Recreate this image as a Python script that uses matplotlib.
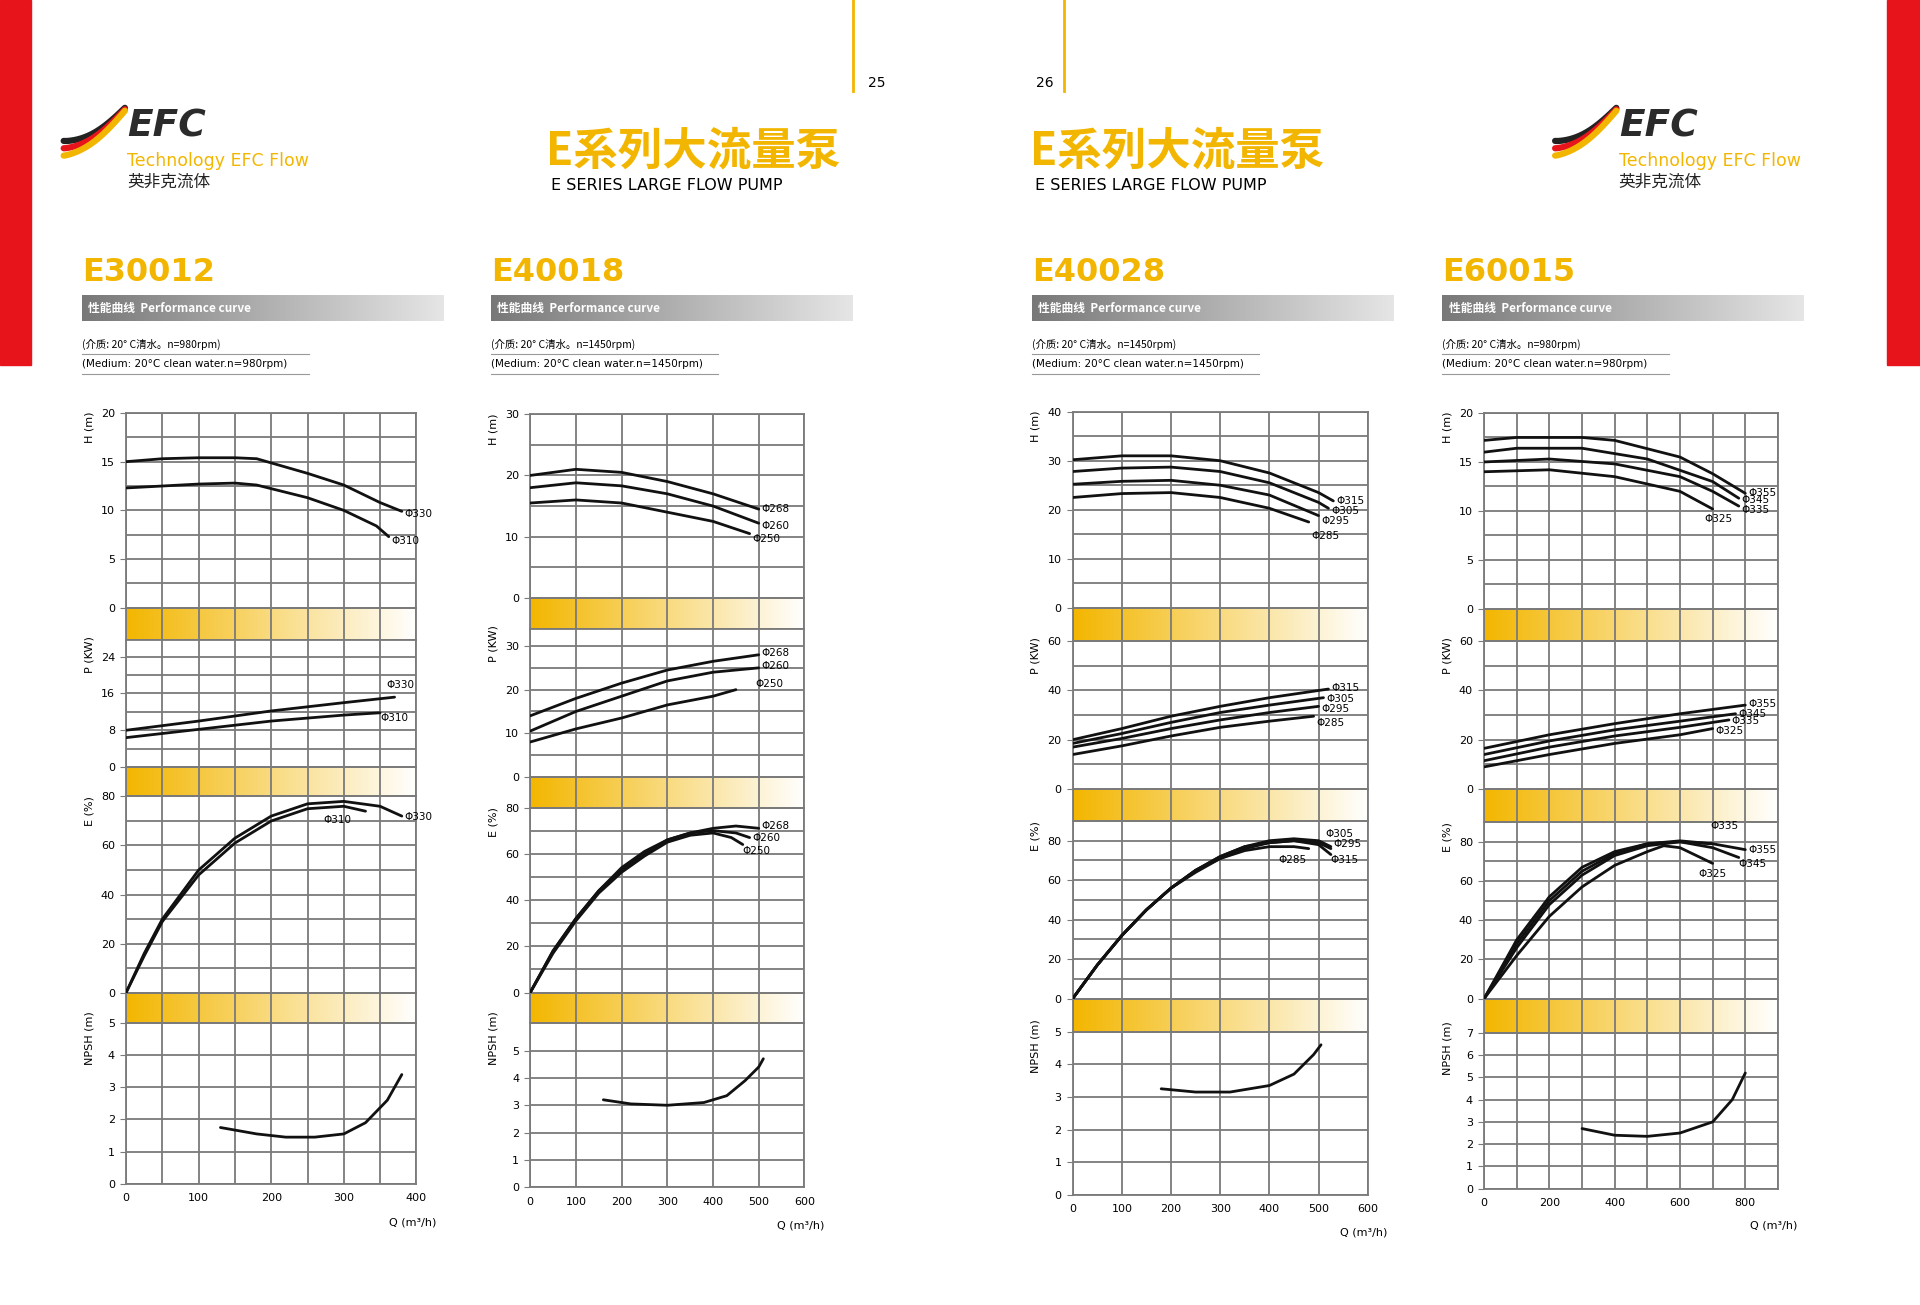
import os
import matplotlib.pyplot as plt
import numpy as np
from matplotlib.patches import Rectangle
from matplotlib.font_manager import FontProperties

plt.rcParams['font.family'] = 'DejaVu Sans'
_cjk_dir = '/usr/share/fonts/opentype/noto/'


def cjk(size, bold=False):
    f = _cjk_dir + ('NotoSansCJK-Bold.ttc' if bold else 'NotoSansCJK-Regular.ttc')
    if os.path.exists(f):
        return FontProperties(fname=f, size=size)
    return FontProperties(family='Noto Sans CJK SC', size=size,
                          weight='bold' if bold else 'normal')


# ---------------- data (Q in m3/h) ----------------
# E30012
e1_hq330 = [0, 50, 100, 150, 180, 250, 300, 350, 380]
e1_h330 = [15.0, 15.3, 15.4, 15.4, 15.3, 13.8, 12.6, 10.8, 9.9]
e1_hq310 = [0, 100, 150, 180, 250, 300, 345, 362]
e1_h310 = [12.3, 12.7, 12.8, 12.6, 11.3, 10.0, 8.4, 7.3]
e1_pq330 = [0, 100, 200, 300, 370]
e1_p330 = [8.0, 10.0, 12.2, 14.0, 15.2]
e1_pq310 = [0, 100, 200, 300, 350]
e1_p310 = [6.4, 8.2, 10.0, 11.3, 11.8]
e1_eq330 = [0, 25, 50, 100, 150, 200, 250, 300, 350, 380]
e1_e330 = [0, 16, 30, 50, 63, 72, 77, 78, 76, 72]
e1_eq310 = [0, 25, 50, 100, 150, 200, 250, 300, 330]
e1_e310 = [0, 15, 29, 48, 61, 70, 75, 76, 74]
e1_nq = [130, 180, 220, 260, 300, 330, 360, 380]
e1_n = [1.75, 1.55, 1.45, 1.45, 1.55, 1.9, 2.6, 3.4]

# E40018
e2_hq = [0, 100, 200, 300, 400, 500]
e2_h268 = [20.0, 21.0, 20.5, 19.0, 17.0, 14.5]
e2_h260 = [18.0, 18.8, 18.3, 17.0, 15.0, 12.2]
e2_hq250 = [0, 100, 200, 300, 400, 480]
e2_h250 = [15.5, 16.0, 15.5, 14.0, 12.5, 10.5]
e2_pq = [0, 100, 200, 300, 400, 500]
e2_p268 = [14.0, 18.0, 21.5, 24.5, 26.5, 28.0]
e2_p260 = [10.5, 15.0, 18.5, 22.0, 24.0, 25.0]
e2_pq250 = [0, 100, 200, 300, 400, 450]
e2_p250 = [8.0, 11.0, 13.5, 16.5, 18.5, 20.0]
e2_eq268 = [0, 50, 100, 150, 200, 250, 300, 350, 400, 450, 500]
e2_e268 = [0, 18, 32, 44, 54, 61, 66, 69, 71, 72, 71]
e2_eq260 = [0, 50, 100, 150, 200, 250, 300, 350, 400, 450, 480]
e2_e260 = [0, 18, 32, 44, 53, 60, 66, 69, 70, 69, 67]
e2_eq250 = [0, 50, 100, 150, 200, 250, 300, 350, 400, 440, 465]
e2_e250 = [0, 17, 31, 43, 52, 59, 65, 68, 69, 67, 64]
e2_nq = [160, 220, 300, 380, 430, 470, 500, 510]
e2_n = [3.2, 3.05, 3.0, 3.1, 3.35, 3.9, 4.4, 4.7]

# E40028
e3_hq315 = [0, 100, 200, 300, 400, 500, 530]
e3_h315 = [30.2, 31.0, 31.0, 30.0, 27.5, 23.5, 21.8]
e3_hq305 = [0, 100, 200, 300, 400, 500, 520]
e3_h305 = [27.8, 28.5, 28.7, 27.8, 25.5, 21.5, 20.3]
e3_hq295 = [0, 100, 200, 300, 400, 500]
e3_h295 = [25.2, 25.8, 26.0, 25.0, 23.0, 18.8]
e3_hq285 = [0, 100, 200, 300, 400, 480]
e3_h285 = [22.5, 23.3, 23.5, 22.5, 20.3, 17.5]
e3_pq315 = [0, 100, 200, 300, 400, 520]
e3_p315 = [20.0, 24.5, 29.5, 33.5, 37.0, 40.5]
e3_pq305 = [0, 100, 200, 300, 400, 510]
e3_p305 = [18.5, 22.5, 27.0, 31.0, 34.0, 37.0]
e3_pq295 = [0, 100, 200, 300, 400, 500]
e3_p295 = [17.0, 20.5, 24.5, 28.0, 31.0, 33.5]
e3_pq285 = [0, 100, 200, 300, 400, 490]
e3_p285 = [14.0, 17.5, 21.5, 25.0, 27.5, 29.5]
e3_eq = [0, 50, 100, 150, 200, 250, 300, 350, 400, 450, 500, 525]
e3_e305 = [0, 17, 32, 45, 56, 65, 72, 77, 80, 81, 80, 77]
e3_e295 = [0, 17, 32, 45, 56, 65, 72, 77, 79, 80, 79, 76]
e3_e315 = [0, 17, 32, 45, 56, 65, 71, 76, 79, 80, 78, 73]
e3_eq285 = [0, 50, 100, 150, 200, 250, 300, 350, 400, 450, 480]
e3_e285 = [0, 17, 32, 45, 56, 64, 71, 75, 77, 77, 76]
e3_nq = [180, 250, 320, 400, 450, 490, 505]
e3_n = [3.25, 3.15, 3.15, 3.35, 3.7, 4.3, 4.6]

# E60015
e4_hq355 = [0, 100, 300, 400, 600, 700, 800]
e4_h355 = [17.2, 17.5, 17.5, 17.2, 15.5, 13.8, 11.8]
e4_hq345 = [0, 100, 300, 500, 700, 780]
e4_h345 = [16.0, 16.4, 16.4, 15.3, 13.0, 11.3]
e4_hq335 = [0, 200, 400, 600, 700, 780]
e4_h335 = [15.0, 15.3, 14.8, 13.5, 12.0, 10.5]
e4_hq325 = [0, 200, 400, 600, 700]
e4_h325 = [14.0, 14.2, 13.5, 12.0, 10.2]
e4_pq355 = [0, 200, 400, 600, 800]
e4_p355 = [16.5, 22.0, 26.5, 30.5, 34.0]
e4_pq345 = [0, 200, 400, 600, 770]
e4_p345 = [14.0, 19.5, 24.0, 27.5, 30.5]
e4_pq335 = [0, 200, 400, 600, 750]
e4_p335 = [11.5, 17.0, 21.5, 25.0, 28.0]
e4_pq325 = [0, 200, 400, 600, 700]
e4_p325 = [9.0, 14.0, 18.5, 22.0, 24.5]
e4_eq355 = [0, 100, 200, 300, 400, 500, 600, 700, 800]
e4_e355 = [0, 30, 52, 67, 75, 79, 80.5, 79, 76]
e4_eq345 = [0, 100, 200, 300, 400, 500, 600, 700, 780]
e4_e345 = [0, 28, 50, 65, 74, 79, 80, 77, 72]
e4_eq335 = [0, 100, 200, 300, 400, 500, 600, 700]
e4_e335 = [0, 26, 48, 63, 73, 78, 80, 79]
e4_eq325 = [0, 100, 200, 300, 400, 500, 550, 600, 700]
e4_e325 = [0, 22, 42, 57, 68, 75, 78, 77, 69]
e4_nq = [300, 400, 500, 600, 700, 760, 800]
e4_n = [2.7, 2.4, 2.35, 2.5, 3.0, 4.0, 5.2]

# ---------------- layout helpers (reference page units 1568 x 1065) ----------------
W, H = 1568.0, 1065.0
YEL = '#f3b600'
GRID = '#7a7a7a'
fig = plt.figure(figsize=(19.2, 13.05), dpi=100)
bg = fig.add_axes([0, 0, 1, 1])
bg.set_xlim(0, W)
bg.set_ylim(H, 0)
bg.axis('off')


def box(x0, x1, ytop, ybot):
    return fig.add_axes([x0 / W, 1 - ybot / H, (x1 - x0) / W, (ybot - ytop) / H])


def vgrid(ax, qmax, xgrid):
    for x in np.arange(0, qmax + 1, xgrid):
        ax.axvline(x, color=GRID, lw=1.3, zorder=1)


def band(x0, x1, ytop, ybot, qmax, xgrid):
    ax = box(x0, x1, ytop, ybot)
    grad = np.linspace(0, 1, 256)[None, :]
    cols = np.array([[0.953, 0.714, 0.0], [1, 1, 1]])
    img = cols[0] * (1 - grad[..., None]) + cols[1] * grad[..., None]
    ax.imshow(img, aspect='auto', extent=[0, qmax, 0, 1], zorder=0)
    ax.set_xlim(0, qmax)
    ax.set_ylim(0, 1)
    vgrid(ax, qmax, xgrid)
    for s in ax.spines.values():
        s.set_color(GRID)
        s.set_linewidth(1.3)
    ax.set_xticks([])
    ax.set_yticks([])


def panel(x0, x1, ytop, ybot, qmax, xgrid, ylim, ygrid, yticks, ylabel, curves,
          names, offs, xticks=None, lw=2.0):
    ax = box(x0, x1, ytop, ybot)
    ax.set_xlim(0, qmax)
    ax.set_ylim(*ylim)
    vgrid(ax, qmax, xgrid)
    for y in np.arange(ylim[0], ylim[1] + 0.01, ygrid):
        ax.axhline(y, color=GRID, lw=1.3, zorder=1)
    ax.set_yticks(yticks)
    ax.set_yticklabels([str(t) for t in yticks], fontsize=8)
    if xticks is None:
        ax.set_xticks([])
    else:
        ax.set_xticks(xticks)
        ax.set_xticklabels([str(t) for t in xticks], fontsize=8)
    ax.tick_params(length=0, pad=7)
    ax.tick_params(axis='y', length=4, color=GRID, pad=4)
    for s in ax.spines.values():
        s.set_color(GRID)
        s.set_linewidth(1.3)
    for (q, v), name, (dx, dy) in zip(curves, names, offs):
        ax.plot(q, v, color='#111111', lw=lw, solid_capstyle='round', zorder=3)
        if name:
            ax.annotate(name, (q[-1], v[-1]), xytext=(dx, dy), textcoords='offset points',
                        fontsize=7.5, va='center', ha='left', annotation_clip=False, zorder=4)
    fig.text((x0 - 30) / W, 1 - (ytop + 12) / H, ylabel, rotation=90, fontsize=8,
             ha='center', va='center')
    return ax


def chart(x0, x1, qmax, xgrid, xticks, specs, bands, qy):
    for (ta, tb) in bands:
        band(x0, x1, ta, tb, qmax, xgrid)
    for i, sp in enumerate(specs):
        last = i == len(specs) - 1
        panel(x0, x1, *sp[:2], qmax, xgrid, *sp[2:], xticks=xticks if last else None)
    fig.text((x1 + 16) / W, 1 - qy / H, 'Q (m³/h)', fontsize=8, ha='right', va='center')


# ---------------- charts ----------------
chart(103, 340, 400, 50, [0, 100, 200, 300, 400], [
    (337, 496, (0, 20), 2.5, [0, 5, 10, 15, 20], 'H (m)',
     [(e1_hq330, e1_h330), (e1_hq310, e1_h310)], ['Φ330', 'Φ310'], [(2, -2), (2, -3)]),
    (522, 626, (0, 27.7), 4, [0, 8, 16, 24], 'P (KW)',
     [(e1_pq330, e1_p330), (e1_pq310, e1_p310)], ['Φ330', 'Φ310'], [(-6, 9), (0, -4)]),
    (650, 810, (0, 80), 10, [0, 20, 40, 60, 80], 'E (%)',
     [(e1_eq330, e1_e330), (e1_eq310, e1_e310)], ['Φ330', 'Φ310'], [(2, -1), (-30, -6)]),
    (835, 966, (0, 5), 1, [0, 1, 2, 3, 4, 5], 'NPSH (m)',
     [(e1_nq, e1_n)], [None], [(0, 0)]),
], [(496, 522), (626, 650), (810, 835)], 998)

chart(433, 657, 600, 100, [0, 100, 200, 300, 400, 500, 600], [
    (338, 488, (0, 30), 5, [0, 10, 20, 30], 'H (m)',
     [(e2_hq, e2_h268), (e2_hq, e2_h260), (e2_hq250, e2_h250)], ['Φ268', 'Φ260', 'Φ250'],
     [(2, 0), (2, -2), (2, -4)]),
    (513, 634, (0, 34), 5, [0, 10, 20, 30], 'P (KW)',
     [(e2_pq, e2_p268), (e2_pq, e2_p260), (e2_pq250, e2_p250)], ['Φ268', 'Φ260', 'Φ250'],
     [(2, 1), (2, 1), (14, 4)]),
    (659, 810, (0, 80), 10, [0, 20, 40, 60, 80], 'E (%)',
     [(e2_eq268, e2_e268), (e2_eq260, e2_e260), (e2_eq250, e2_e250)], ['Φ268', 'Φ260', 'Φ250'],
     [(2, 2), (2, 0), (0, -5)]),
    (835, 969, (0, 6), 1, [0, 1, 2, 3, 4, 5], 'NPSH (m)',
     [(e2_nq, e2_n)], [None], [(0, 0)]),
], [(488, 513), (634, 659), (810, 835)], 1000)

chart(876, 1117, 600, 100, [0, 100, 200, 300, 400, 500, 600], [
    (336, 496, (0, 40), 5, [0, 10, 20, 30, 40], 'H (m)',
     [(e3_hq315, e3_h315), (e3_hq305, e3_h305), (e3_hq295, e3_h295), (e3_hq285, e3_h285)],
     ['Φ315', 'Φ305', 'Φ295', 'Φ285'], [(2, 0), (2, -2), (2, -4), (2, -10)]),
    (523, 644, (0, 60), 10, [0, 20, 40, 60], 'P (KW)',
     [(e3_pq315, e3_p315), (e3_pq305, e3_p305), (e3_pq295, e3_p295), (e3_pq285, e3_p285)],
     ['Φ315', 'Φ305', 'Φ295', 'Φ285'], [(2, 1), (2, -1), (2, -2), (2, -5)]),
    (670, 815, (0, 90), 10, [0, 20, 40, 60, 80], 'E (%)',
     [(e3_eq, e3_e305), (e3_eq, e3_e295), (e3_eq, e3_e315), (e3_eq285, e3_e285)],
     ['Φ305', 'Φ295', 'Φ315', 'Φ285'], [(-4, 9), (2, 3), (0, -4), (-22, -8)]),
    (842, 975, (0, 5), 1, [0, 1, 2, 3, 4, 5], 'NPSH (m)',
     [(e3_nq, e3_n)], [None], [(0, 0)]),
], [(496, 523), (644, 670), (815, 842)], 1006)

chart(1212, 1452, 900, 100, [0, 200, 400, 600, 800], [
    (337, 497, (0, 20), 2.5, [0, 5, 10, 15, 20], 'H (m)',
     [(e4_hq355, e4_h355), (e4_hq345, e4_h345), (e4_hq335, e4_h335), (e4_hq325, e4_h325)],
     ['Φ355', 'Φ345', 'Φ335', 'Φ325'], [(2, 0), (2, -1), (2, -3), (-6, -7)]),
    (523, 644, (0, 60), 10, [0, 20, 40, 60], 'P (KW)',
     [(e4_pq355, e4_p355), (e4_pq345, e4_p345), (e4_pq335, e4_p335), (e4_pq325, e4_p325)],
     ['Φ355', 'Φ345', 'Φ335', 'Φ325'], [(2, 1), (2, 0), (2, -1), (2, -2)]),
    (671, 815, (0, 90), 10, [0, 20, 40, 60, 80], 'E (%)',
     [(e4_eq355, e4_e355), (e4_eq345, e4_e345), (e4_eq335, e4_e335), (e4_eq325, e4_e325)],
     ['Φ355', 'Φ345', 'Φ335', 'Φ325'], [(2, 0), (0, -5), (-2, 13), (-10, -8)]),
    (843, 970, (0, 7), 1, [0, 1, 2, 3, 4, 5, 6, 7], 'NPSH (m)',
     [(e4_nq, e4_n)], [None], [(0, 0)]),
], [(497, 523), (644, 671), (815, 843)], 1000)

# ---------------- page decoration ----------------
bg.add_patch(Rectangle((0, 0), 25, 298, color='#e8141c'))
bg.add_patch(Rectangle((1541, 0), 27, 298, color='#e8141c'))
bg.plot([697, 697], [0, 74], color=YEL, lw=2)
bg.plot([869, 869], [0, 74], color=YEL, lw=2)
bg.text(716, 68, '25', fontsize=10, ha='center', va='center')
bg.text(853, 68, '26', fontsize=10, ha='center', va='center')

for tx in [446, 841]:
    bg.text(tx, 124, 'E系列大流量泵', fontproperties=cjk(32, True), color=YEL,
            ha='left', va='center')
    bg.text(tx + 4, 151, 'E SERIES LARGE FLOW PUMP', fontsize=11.5, ha='left',
            va='center', family='Liberation Sans Narrow')


def logo(lx):
    t = np.linspace(0, 1, 40)
    for off, col in [(0, '#222222'), (6, '#e8141c'), (12, YEL)]:
        xs = lx + 50 * t
        ys = 115 + off - 27 * t ** 1.2 - off * 0.8 * t + 5 * np.sin(np.pi * t)
        bg.plot(xs, ys, color=col, lw=4.5, solid_capstyle='round')
    bg.text(lx + 52, 103, 'EFC', fontsize=27, fontweight='bold', fontstyle='italic',
            color='#2b2b2b', ha='left', va='center')
    bg.text(lx + 52, 131, 'Technology EFC Flow', fontsize=12.5, color=YEL, ha='left', va='center')
    bg.text(lx + 52, 149, '英非克流体', fontproperties=cjk(12), color='#222222',
            ha='left', va='center')


logo(52)
logo(1270)

models = ['E30012', 'E40018', 'E40028', 'E60015']
speeds = ['980', '1450', '1450', '980']
for mx, name, n in zip([67, 401, 843, 1178], models, speeds):
    bg.text(mx, 222, name, fontsize=23, fontweight='bold', color=YEL, ha='left', va='center')
    gx = np.linspace(0, 1, 256)[None, :]
    g = np.array([0.47, 0.47, 0.47]) * (1 - gx[..., None]) + np.array([0.9, 0.9, 0.9]) * gx[..., None]
    bg.imshow(g, extent=[mx, mx + 295, 262, 241], aspect='auto', zorder=1)
    bg.text(mx + 5, 252, '性能曲线  Performance curve', fontproperties=cjk(8.5, True),
            color='white', ha='left', va='center', zorder=2)
    bg.text(mx, 281, '(介质: 20° C清水。n=%srpm)' % n, fontproperties=cjk(7.5),
            ha='left', va='center')
    bg.plot([mx, mx + 185], [289, 289], color='#999999', lw=0.8)
    bg.text(mx, 297, '(Medium: 20°C clean water.n=%srpm)' % n, fontsize=7.5, ha='left', va='center')
    bg.plot([mx, mx + 185], [305, 305], color='#999999', lw=0.8)
bg.set_xlim(0, W)
bg.set_ylim(H, 0)

fig.savefig('out.png', dpi=100)
